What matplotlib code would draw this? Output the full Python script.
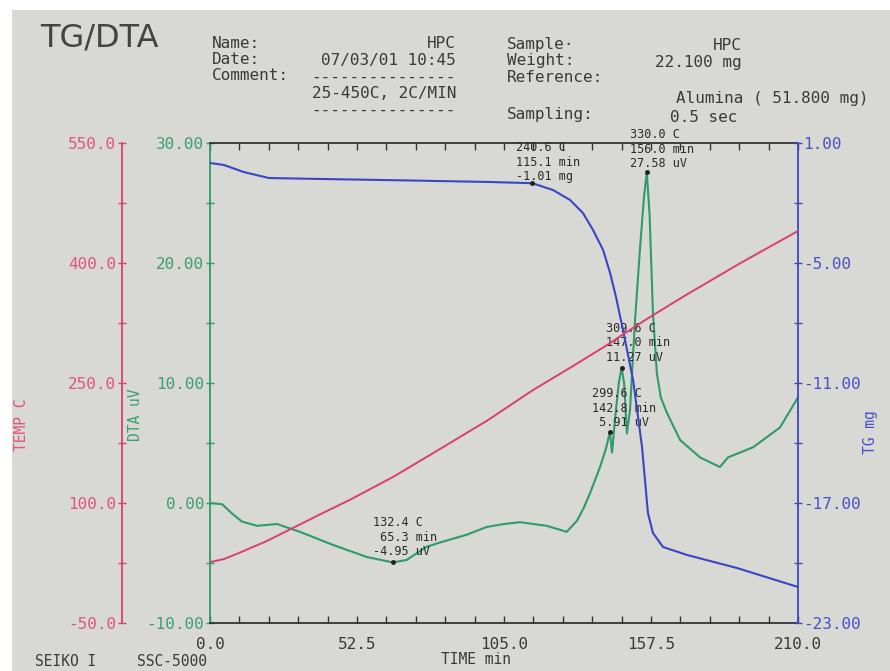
import matplotlib
matplotlib.use("Agg")
import matplotlib.pyplot as plt
from matplotlib.patches import Rectangle
from matplotlib.ticker import FixedLocator

# TG/DTA run of HPC, 25-450C at 2C/min
time_temp = [0, 5, 10, 20, 28.6, 40, 50, 65.3, 80, 99, 115.1, 130, 142.8, 147.0, 156.0, 170, 190, 210]
temp = [26, 30, 37, 52, 67, 87, 104, 132.4, 163, 203, 240.6, 272, 299.6, 309.6, 330.0, 360, 401, 440]

time_tg = [0, 5, 12, 21, 40, 70, 100, 115.1, 122.5, 128.6, 133.2, 136.8, 140.4, 142.9, 145, 147.5,
           151.1, 154.3, 156.4, 158.2, 161.8, 170.4, 188.2, 210]
tg = [0.0, -0.1, -0.45, -0.75, -0.8, -0.87, -0.95, -1.01, -1.35, -1.85, -2.5, -3.35, -4.35, -5.5,
      -6.7, -8.35, -10.85, -14.2, -17.5, -18.5, -19.2, -19.6, -20.25, -21.2]

time_dta = [0, 4.3, 8, 11.4, 16.8, 23.9, 32.1, 44, 56, 65.3, 70.2, 77.4, 82, 91.6, 98.8, 105, 110.7,
            120.2, 127.4, 131, 133.5, 135.7, 139.3, 141.5, 142.8, 143.6, 144.6, 146.0, 147.0, 147.9,
            148.9, 150.0, 151.8, 153.6, 155.0, 156.0, 157.0, 158.2, 159.6, 161.0, 163.2, 167.9, 175,
            182.1, 185, 194, 203.6, 210]
dta = [0.0, -0.1, -0.9, -1.55, -1.9, -1.75, -2.4, -3.5, -4.5, -4.95, -4.75, -3.65, -3.3, -2.65, -2.0,
       -1.75, -1.6, -1.9, -2.4, -1.5, -0.4, 0.8, 3.0, 4.6, 5.91, 4.2, 6.9, 10.0, 11.27, 10.0, 5.8,
       7.75, 15.25, 21.3, 25.5, 27.58, 24.0, 15.8, 10.8, 8.8, 7.5, 5.25, 3.8, 3.0, 3.8, 4.65, 6.3, 8.8]

# picked points: (time, value, temperature)
dta_peaks = [(65.3, -4.95, 132.4), (142.8, 5.91, 299.6), (147.0, 11.27, 309.6), (156.0, 27.58, 330.0)]
tg_point = (115.1, -1.01, 240.6)

# scale ticks
time_ticks = [0, 52.5, 105, 157.5, 210]
time_labels = ["0.0", "52.5", "105.0", "157.5", "210.0"]
dta_ticks = [-10, 0, 10, 20, 30]
tg_ticks = [-23, -17, -11, -5, 1]
temp_ticks = [-50, 100, 250, 400, 550]

W, H = 890, 671
RED, RED_TXT = "#d8406e", "#e0547f"
GREEN, GREEN_TXT = "#2f9a6a", "#3c9f73"
BLUE, BLUE_TXT = "#3a46c4", "#4852c8"
INK = "#3a3a3a"
MONO = "DejaVu Sans Mono"


def px(x, y):
    return x / W, 1 - y / H


def halves(ticks):
    return [(a + b) / 2 for a, b in zip(ticks[:-1], ticks[1:])]


fig = plt.figure(figsize=(W / 100, H / 100), dpi=100)
fig.patch.set_facecolor("white")
fig.patches.append(Rectangle((12 / W, 0), 1, 1 - 10 / H, transform=fig.transFigure,
                             facecolor="#d8d8d4", edgecolor="none", zorder=-10))

ax = fig.add_axes([210 / W, 48 / H, 588 / W, 480 / H])
ax.set_facecolor("none")
ax_tg = ax.twinx()
ax_t = ax.twinx()

ax.set_xlim(0, 210)
ax.set_ylim(dta_ticks[0], dta_ticks[-1])
ax_tg.set_ylim(tg_ticks[0], tg_ticks[-1])
ax_t.set_ylim(temp_ticks[0], temp_ticks[-1])

# spines
for a in (ax, ax_tg, ax_t):
    for s in a.spines.values():
        s.set_visible(False)
ax.spines["left"].set_visible(True)
ax.spines["left"].set_color(GREEN)
ax.spines["top"].set_visible(True)
ax.spines["bottom"].set_visible(True)
ax.spines["top"].set_color("#333333")
ax.spines["bottom"].set_color("#333333")
ax_tg.spines["right"].set_visible(True)
ax_tg.spines["right"].set_color(BLUE)
ax_t.spines["left"].set_visible(True)
ax_t.spines["left"].set_color(RED)
ax_t.spines["left"].set_position(("axes", (122 - 210) / 588))
ax_t.yaxis.set_ticks_position("left")
for s in (ax.spines["left"], ax.spines["top"], ax.spines["bottom"], ax_tg.spines["right"], ax_t.spines["left"]):
    s.set_linewidth(1.3)

# x axis
ax.xaxis.set_major_locator(FixedLocator(time_ticks))
ax.xaxis.set_minor_locator(FixedLocator([i * 10.5 for i in range(21)]))
ax.set_xticklabels(time_labels)
ax.tick_params(axis="x", which="both", direction="in", top=True, length=5, width=1,
               color="#333333", labelsize=11.5, labelcolor=INK, pad=10)

# DTA axis
ax.yaxis.set_major_locator(FixedLocator(dta_ticks))
ax.yaxis.set_minor_locator(FixedLocator(halves(dta_ticks)))
ax.yaxis.set_major_formatter(lambda v, p: f"{v:.2f}")
ax.tick_params(axis="y", which="both", direction="inout", length=6, width=1, color=GREEN,
               labelsize=11.5, labelcolor=GREEN_TXT, pad=1)

# TG axis
ax_tg.yaxis.set_major_locator(FixedLocator(tg_ticks))
ax_tg.yaxis.set_minor_locator(FixedLocator(halves(tg_ticks)))
ax_tg.yaxis.set_major_formatter(lambda v, p: f"{v:.2f}")
ax_tg.tick_params(axis="y", which="both", direction="inout", length=6, width=1, color=BLUE,
                  labelsize=11.5, labelcolor=BLUE_TXT, pad=1)

# temperature axis
ax_t.yaxis.set_major_locator(FixedLocator(temp_ticks))
ax_t.yaxis.set_minor_locator(FixedLocator(halves(temp_ticks)))
ax_t.yaxis.set_major_formatter(lambda v, p: f"{v:.1f}")
ax_t.tick_params(axis="y", which="both", direction="inout", length=6, width=1, color=RED,
                 labelsize=11.5, labelcolor=RED_TXT, pad=1)

for a in (ax, ax_tg, ax_t):
    for lab in a.get_yticklabels() + a.get_xticklabels():
        lab.set_fontfamily(MONO)

# curves
ax_t.plot(time_temp, temp, color=RED, lw=1.4)
ax_tg.plot(time_tg, tg, color=BLUE, lw=1.5)
ax.plot(time_dta, dta, color=GREEN, lw=1.5)

# picked points with readouts
ann = dict(textcoords="offset pixels", ha="left", va="top", fontsize=8.5,
           family=MONO, color="#2a2a2a", linespacing=1.15, annotation_clip=False)
offsets = {65.3: (-20, 46), 142.8: (-18, 45), 147.0: (-16, 46), 156.0: (-17, 44)}
for t, v, T in dta_peaks:
    ax.plot([t], [v], "o", color="#222222", ms=2.5, zorder=5)
    if t == 65.3:
        txt = f"{T:.1f} C\n {t:.1f} min\n{v:.2f} uV"
    else:
        txt = f"{T:.1f} C\n{t:.1f} min\n{v:5.2f} uV"
    ax.annotate(txt, (t, v), xytext=offsets[t], **ann)

t, v, T = tg_point
ax_tg.plot([t], [v], "o", color="#222222", ms=2.5, zorder=5)
ax_tg.annotate(f"{T:.1f} C\n{t:.1f} min\n{v:.2f} mg", (t, v), xytext=(-16, 42), **ann)

# axis titles
fig.text(*px(22, 425), "TEMP C", rotation=90, color=RED_TXT, family=MONO, fontsize=10.5,
         ha="center", va="center")
fig.text(*px(136, 415), "DTA uV", rotation=90, color=GREEN_TXT, family=MONO, fontsize=10.5,
         ha="center", va="center")
fig.text(*px(871, 432), "TG mg", rotation=90, color=BLUE_TXT, family=MONO, fontsize=10.5,
         ha="center", va="center")
fig.text(*px(476, 660), "TIME min", color=INK, family=MONO, fontsize=10.5, ha="center", va="center")
fig.text(*px(35, 662), "SEIKO I", color=INK, family=MONO, fontsize=10.5, ha="left", va="center")
fig.text(*px(137, 662), "SSC-5000", color=INK, family=MONO, fontsize=10.5, ha="left", va="center")

# header block
fig.text(*px(40, 38), "TG/DTA", color="#444444", fontsize=23, ha="left", va="center")
hdr = dict(color=INK, family=MONO, fontsize=11.5, va="center")
fig.text(*px(212, 43), "Name:", ha="left", **hdr)
fig.text(*px(456, 43), "HPC", ha="right", **hdr)
fig.text(*px(212, 59), "Date:", ha="left", **hdr)
fig.text(*px(456, 60), "07/03/01 10:45", ha="right", **hdr)
fig.text(*px(212, 76), "Comment:", ha="left", **hdr)
fig.text(*px(456, 77), "-" * 15, ha="right", **hdr)
fig.text(*px(456, 93), "25-450C, 2C/MIN", ha="right", **hdr)
fig.text(*px(456, 110), "-" * 15, ha="right", **hdr)
fig.text(*px(507, 44), "Sample\u00b7", ha="left", **hdr)
fig.text(*px(742, 45), "HPC", ha="right", **hdr)
fig.text(*px(507, 61), "Weight:", ha="left", **hdr)
fig.text(*px(742, 62), "22.100 mg", ha="right", **hdr)
fig.text(*px(507, 78), "Reference:", ha="left", **hdr)
fig.text(*px(868, 99), "Alumina ( 51.800 mg)", ha="right", **hdr)
fig.text(*px(507, 115), "Sampling:", ha="left", **hdr)
fig.text(*px(670, 117), "0.5 sec", ha="left", **hdr)

fig.savefig("out.png", dpi=100, facecolor=fig.get_facecolor())
